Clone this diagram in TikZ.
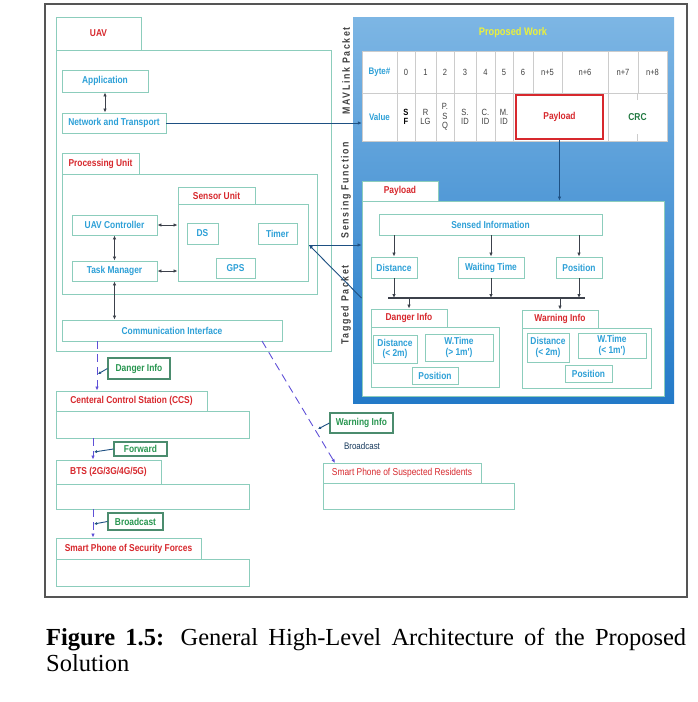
\documentclass[tikz,border=0pt]{standalone}
\usepackage{fontspec}
\setmainfont{Liberation Serif}
\newfontfamily\labfont{Liberation Sans}[FakeStretch=0.84]
\usetikzlibrary{arrows.meta}

\definecolor{edgegreen}{RGB}{140,205,188}
\definecolor{notegreen}{RGB}{75,140,110}
\definecolor{labblue}{RGB}{45,160,215}
\definecolor{labred}{RGB}{215,40,45}
\definecolor{labgreen}{RGB}{40,150,80}
\definecolor{arrowgray}{RGB}{60,65,75}
\definecolor{linkblue}{RGB}{30,80,130}
\definecolor{dashviolet}{RGB}{95,80,215}
\definecolor{paneltop}{RGB}{125,182,228}
\definecolor{panelbot}{RGB}{35,122,200}
\definecolor{workyellow}{RGB}{235,240,60}

\begin{document}
\begin{tikzpicture}[x=1pt,y=-1pt,
  >={Latex[length=4pt,width=3.5pt]},
  box/.style={draw=edgegreen, line width=0.9pt, fill=white, inner sep=0pt, align=center,
    font=\labfont\bfseries\fontsize{10}{10.5}\selectfont},
  bluebox/.style={box, text=labblue},
  redbox/.style={box, text=labred},
  note/.style={box, draw=notegreen, line width=1.1pt, text=labgreen},
  cell/.style={draw=gray!40, fill=white, inner sep=0pt, align=center, text=darkgray,
    font=\labfont\fontsize{9}{9.5}\selectfont},
  side/.style={rotate=90, text=darkgray,
    font=\labfont\bfseries\fontsize{10.5}{11}\selectfont\addfontfeature{LetterSpace=15}},
  biarrow/.style={<->, arrowgray, line width=0.9pt},
  down/.style={->, arrowgray, line width=0.9pt},
  dasharrow/.style={->, dashviolet, line width=0.9pt, dash pattern=on 8pt off 5pt},
  pointer/.style={->, linkblue, line width=0.9pt, >={Latex[length=3pt,width=3pt]}}]
\useasboundingbox (0,0) rectangle (697,702);
\draw[draw={rgb,255:red,85;green,85;blue,85}, line width=1.2pt] (45,4) rectangle (687,597);

% UAV side
\node[box, minimum width=275, minimum height=301] (uavbox) at (193.5,200.5) {};
\node[redbox, minimum width=85, minimum height=33] (uavtab) at (98.5,33.5) {UAV};
\node[bluebox, minimum width=86, minimum height=22] (app) at (105,81) {Application};
\node[bluebox, minimum width=104, minimum height=20] (net) at (114,123) {Network and Transport};
\draw[biarrow] (app) -- (app |- net.north);
\node[box, minimum width=255, minimum height=120] (procbox) at (189.5,234) {};
\node[redbox, minimum width=77, minimum height=21] (proctab) at (100.5,163.5) {Processing Unit};
\node[box, minimum width=130, minimum height=77] (senbox) at (243,242.5) {};
\node[redbox, minimum width=77, minimum height=17] (sentab) at (216.5,195.5) {Sensor Unit};
\node[bluebox, minimum width=31, minimum height=21] (ds) at (202.5,233.5) {DS};
\node[bluebox, minimum width=39, minimum height=21] (timer) at (277.5,233.5) {Timer};
\node[bluebox, minimum width=39, minimum height=20] (gps) at (235.5,268) {GPS};
\node[bluebox, minimum width=85, minimum height=20] (ctrl) at (114.5,225) {UAV Controller};
\node[bluebox, minimum width=85, minimum height=20] (task) at (114.5,271) {Task Manager};
\node[bluebox, minimum width=220, minimum height=21] (comm) at (172,330.5) {Communication Interface};
\draw[biarrow] (ctrl.east) -- (ctrl.east -| senbox.west);
\draw[biarrow] (task.east) -- (task.east -| senbox.west);
\draw[biarrow] (ctrl) -- (task);
\draw[biarrow] (task) -- (task |- comm.north);

% ground side
\node[redbox, minimum width=151, minimum height=20] (ccstab) at (131.5,401) {Centeral Control Station (CCS)};
\node[box, minimum width=193, minimum height=27] (ccsbox) at (152.5,424.5) {};
\node[redbox, minimum width=105, minimum height=24] (btstab) at (108.5,472) {BTS (2G/3G/4G/5G)};
\node[box, minimum width=193, minimum height=25] (btsbox) at (152.5,496.5) {};
\node[redbox, minimum width=145, minimum height=21] (sftab) at (128.5,548.5) {Smart Phone of Security Forces};
\node[box, minimum width=193, minimum height=27] (sfbox) at (152.5,572.5) {};
\node[redbox, minimum width=158, minimum height=20, font=\labfont\fontsize{10}{10.5}\selectfont] (srtab) at (402,473) {Smart Phone of Suspected Residents};
\node[box, minimum width=191, minimum height=26] (srbox) at (418.5,496) {};

\coordinate (d1) at (97,341);
\coordinate (d2) at (93,438);
\coordinate (d3) at (93,509);
\coordinate (d4) at (262,341);
\coordinate (d5) at (335,463);
\draw[dasharrow] (d1) -- (d1 |- ccstab.north);
\draw[dasharrow] (d2) -- (d2 |- btstab.north);
\draw[dasharrow] (d3) -- (d3 |- sftab.north);
\draw[dasharrow] (d4) -- (d5);

\node[note, minimum width=62, minimum height=21] (dangernote) at (139,368.5) {Danger Info};
\node[note, minimum width=53, minimum height=14] (fwdnote) at (140.5,449) {Forward};
\node[note, minimum width=55, minimum height=17] (bcnote) at (135.5,521.5) {Broadcast};
\node[note, minimum width=63, minimum height=20] (warnnote) at (361.5,423) {Warning Info};
\node[font=\labfont\fontsize{9.5}{10}\selectfont, text=linkblue!70!black] (bcast) at (362,446) {Broadcast};
\draw[pointer] (dangernote.west) -- (98,374);
\draw[pointer] (fwdnote.west) -- (94,452);
\draw[pointer] (bcnote.west) -- (94,524);
\draw[pointer] (warnnote.west) -- (318,429);

% proposed work panel
\shade[top color=paneltop, bottom color=panelbot] (353,17) rectangle (674,403);
\node[font=\labfont\bfseries\fontsize{11}{12}\selectfont, text=workyellow] (work) at (513,33) {Proposed Work};
\node[side] (mav) at (346,71) {MAVLink Packet};
\node[side] (sense) at (346,190) {Sensing Function};
\node[side] (tagged) at (346,305) {Tagged Packet};

\node[cell, minimum width=35, minimum height=42, text=labblue, font=\labfont\bfseries\fontsize{9.5}{10}\selectfont] (bytehd) at (379.5,72) {Byte\#};
\node[cell, minimum width=18, minimum height=42] (b0) at (406,72) {0};
\node[cell, minimum width=21, minimum height=42] (b1) at (425.5,72) {1};
\node[cell, minimum width=18, minimum height=42] (b2) at (445,72) {2};
\node[cell, minimum width=22, minimum height=42] (b3) at (465,72) {3};
\node[cell, minimum width=19, minimum height=42] (b4) at (485.5,72) {4};
\node[cell, minimum width=18, minimum height=42] (b5) at (504,72) {5};
\node[cell, minimum width=20, minimum height=42] (b6) at (523,72) {6};
\node[cell, minimum width=29, minimum height=42] (b7) at (547.5,72) {n+5};
\node[cell, minimum width=46, minimum height=42] (b8) at (585,72) {n+6};
\node[cell, minimum width=30, minimum height=42] (b9) at (623,72) {n+7};
\node[cell, minimum width=29, minimum height=42] (b10) at (652.5,72) {n+8};

\node[cell, minimum width=35, minimum height=48, text=labblue, font=\labfont\bfseries\fontsize{9.5}{10}\selectfont] (valuehd) at (379.5,117) {Value};
\node[cell, minimum width=18, minimum height=48, text=black, font=\labfont\bfseries\fontsize{9}{9.5}\selectfont] (v0) at (406,117) {S\\F};
\node[cell, minimum width=21, minimum height=48] (v1) at (425.5,117) {R\\LG};
\node[cell, minimum width=18, minimum height=48] (v2) at (445,117) {P.\\S\\Q};
\node[cell, minimum width=22, minimum height=48] (v3) at (465,117) {S.\\ID};
\node[cell, minimum width=19, minimum height=48] (v4) at (485.5,117) {C.\\ID};
\node[cell, minimum width=18, minimum height=48] (v5) at (504,117) {M.\\ID};
\node[cell, minimum width=95, minimum height=48] (vpay) at (560.5,117) {};
\node[cell, minimum width=59, minimum height=48, text=labgreen!80!black, font=\labfont\bfseries\fontsize{10}{10.5}\selectfont] (crc) at (637.5,117) {CRC};
\draw[gray!40] (crc.north) -- ++(0,7) (crc.south) -- ++(0,-7);
\node[redbox, draw=labred, line width=1.5pt, minimum width=87, minimum height=44] (payred) at (559.5,117) {Payload};
\draw[->, linkblue, line width=0.9pt] (net.east) -- (net.east -| valuehd.west);

% payload
\node[box, minimum width=302, minimum height=195] (paybox) at (513,298.5) {};
\node[redbox, minimum width=76, minimum height=20] (paytab) at (400,191) {Payload};
\draw[->, linkblue, line width=0.9pt] (payred.south) -- (payred.south |- paybox.north);
\node[bluebox, minimum width=223, minimum height=21] (sensed) at (490.5,224.5) {Sensed Information};
\node[bluebox, minimum width=46, minimum height=21] (dist) at (394,267.5) {Distance};
\node[bluebox, minimum width=66, minimum height=21] (wait) at (491,267.5) {Waiting Time};
\node[bluebox, minimum width=46, minimum height=21] (pos) at (579,267.5) {Position};
\draw[down] (sensed.south -| dist) -- (dist.north);
\draw[down] (sensed.south -| wait) -- (wait.north);
\draw[down] (sensed.south -| pos) -- (pos.north);
\coordinate (busL) at (388,298);
\coordinate (busR) at (585,298);
\draw[arrowgray, line width=1.2pt] (busL) -- (busR);
\draw[down] (dist.south) -- (dist.south |- busL);
\draw[down] (wait.south) -- (wait.south |- busL);
\draw[down] (pos.south) -- (pos.south |- busL);

\node[box, minimum width=128, minimum height=60] (dangerbox) at (435,357) {};
\node[redbox, minimum width=76, minimum height=18] (dangertab) at (409,318) {Danger Info};
\node[bluebox, minimum width=44, minimum height=28] (ddist) at (395,349) {Distance\\(< 2m)};
\node[bluebox, minimum width=68, minimum height=27] (dtime) at (459,347.5) {W.Time\\(> 1m')};
\node[bluebox, minimum width=46, minimum height=17] (dpos) at (435,375.5) {Position};
\node[box, minimum width=129, minimum height=60] (warnbox) at (586.5,358) {};
\node[redbox, minimum width=76, minimum height=18] (warntab) at (560,319) {Warning Info};
\node[bluebox, minimum width=42, minimum height=29] (wdist) at (548,347.5) {Distance\\(< 2m)};
\node[bluebox, minimum width=68, minimum height=25] (wtime) at (612,345.5) {W.Time\\(< 1m')};
\node[bluebox, minimum width=47, minimum height=17] (wpos) at (588.5,373.5) {Position};
\draw[down] (dangertab.north |- busL) -- (dangertab.north);
\draw[down] (warntab.north |- busL) -- (warntab.north);

% timer to payload
\coordinate (tmr) at (309,245);
\draw[->, linkblue, line width=0.9pt] (tmr) -- (tmr -| paybox.west);
\draw[->, linkblue, line width=0.9pt] (paybox.west |- busL) -- (tmr);

% caption
\node[anchor=base west, inner sep=0pt, font=\fontsize{24.5}{28}\selectfont] (cap1) at (46,645)
  {\makebox[640pt][s]{\textbf{Figure 1.5:} General High-Level Architecture of the Proposed}};
\node[anchor=base west, inner sep=0pt, font=\fontsize{24.5}{28}\selectfont] (cap2) at (46,671) {Solution};
\end{tikzpicture}
\end{document}
